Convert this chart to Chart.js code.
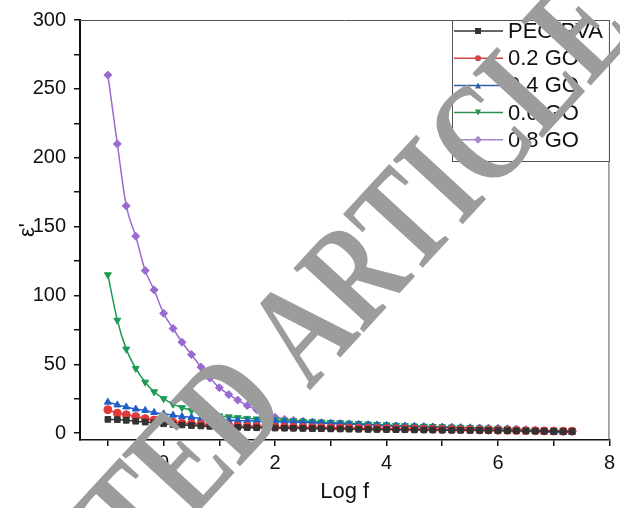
<!DOCTYPE html>
<html>
<head>
<meta charset="utf-8">
<script src="https://cdn.jsdelivr.net/npm/chart.js@4"></script>
<style>
    body { margin: 0; background: #fff; }
    #wrap { width: 620px; height: 508px; }
</style>
</head>
<body>
<div id="wrap"><canvas id="chart" width="620" height="508"></canvas></div>
<script>
// log f values (x), shared by all series
const logF = [-1, -0.83, -0.67, -0.5, -0.33, -0.17, 0, 0.17, 0.33, 0.5, 0.67, 0.83,
    1, 1.17, 1.33, 1.5, 1.67, 1.83, 2, 2.17, 2.33, 2.5, 2.67, 2.83,
    3, 3.17, 3.33, 3.5, 3.67, 3.83, 4, 4.17, 4.33, 4.5, 4.67, 4.83,
    5, 5.17, 5.33, 5.5, 5.67, 5.83, 6, 6.17, 6.33, 6.5, 6.67, 6.83,
    7, 7.17, 7.33];

const peoPva = [10, 9.8, 9.3, 8.6, 8, 7.4, 6.8, 6.3, 5.9, 5.5, 5.2, 4.9,
    4.6, 4.4, 4.2, 4.0, 3.9, 3.8, 3.7, 3.6, 3.5, 3.4, 3.3, 3.2,
    3.1, 3.0, 2.9, 2.8, 2.7, 2.7, 2.6, 2.5, 2.5, 2.4, 2.3, 2.3,
    2.2, 2.1, 2.1, 2.0, 2.0, 1.9, 1.8, 1.8, 1.7, 1.6, 1.5, 1.4,
    1.3, 1.2, 1.2];
const go02 = [17, 14.5, 13.3, 12, 10.5, 9.5, 8.5, 7.8, 7.2, 6.8, 6.4, 6,
    5.7, 5.4, 5.2, 5, 4.8, 4.6, 4.5, 4.4, 4.3, 4.2, 4.1, 4,
    3.9, 3.8, 3.7, 3.6, 3.5, 3.4, 3.3, 3.2, 3.1, 3.0, 2.9, 2.8,
    2.7, 2.6, 2.5, 2.4, 2.3, 2.2, 2.1, 2.0, 1.9, 1.8, 1.7, 1.6,
    1.5, 1.4, 1.4];
const go04 = [22.5, 20.5, 19, 17.5, 16.5, 15, 14, 13, 12, 11.4, 10.7, 10.2,
    9.8, 9.5, 9.2, 9, 8.8, 8.6, 8.4, 8.2, 8, 7.8, 7.6, 7.3,
    7, 6.8, 6.5, 6.3, 6, 5.8, 5.5, 5.2, 5, 4.8, 4.6, 4.4,
    4.2, 4, 3.8, 3.6, 3.4, 3.2, 3, 2.6, 2.2, 1.8, 1.2, 0.8,
    0.5, 0.4, 0.6];
const go06 = [115, 82, 61, 47, 37, 30, 25, 21, 18.5, 16.5, 15, 13.5,
    12.5, 11.8, 11.2, 10.7, 10.3, 10, 9.6, 9.3, 9, 8.7, 8.4, 8.1,
    7.8, 7.5, 7.2, 6.9, 6.6, 6.3, 6, 5.7, 5.4, 5.2, 5, 4.8,
    4.6, 4.4, 4.2, 4, 3.8, 3.6, 3.4, 3.1, 2.8, 2.4, 2, 1.7,
    1.5, 1.4, 1.6];
const go08 = [260, 210, 165, 143, 118, 104, 87, 76, 66, 57, 48, 40,
    33, 28, 24, 20, 17, 14, 11.5, 10, 9.3, 8.6, 8, 7.5,
    7, 6.8, 6.5, 6.2, 6, 5.7, 5.4, 5.2, 5, 4.8, 4.6, 4.5,
    4.3, 4.2, 4.0, 3.9, 3.8, 3.6, 3.5, 3.2, 3.0, 2.5, 2, 1.6,
    1.5, 1.3, 1.5];

const seriesNames = ["PEO/PVA", "0.2 GO", "0.4 GO", "0.6 GO", "0.8 GO"];
const seriesValues = [peoPva, go02, go04, go06, go08];
const xTicks = [-1, 0, 1, 2, 3, 4, 5, 6, 7, 8];
const yTicks = [0, 25, 50, 75, 100, 125, 150, 175, 200, 225, 250, 275, 300];

const colors = ["#333333", "#e23b3b", "#1f5fc8", "#1e9a55", "#9a6ad0"];
const legendColors = ["#333333", "#d04848", "#3060a8", "#2a9050", "#a488d0"];
const shapes = ["rect", "circle", "triangle", "triangle", "rectRot"];
const rotations = [0, 0, 0, 180, 0];

const datasets = seriesNames.map((name, i) => ({
    label: name,
    data: logF.map((x, j) => ({ x: x, y: seriesValues[i][j] })),
    borderColor: colors[i],
    backgroundColor: colors[i],
    borderWidth: 1.5,
    pointStyle: shapes[i],
    pointRotation: rotations[i],
    pointRadius: 4,
    pointBorderWidth: 1,
    cubicInterpolationMode: "monotone",
    tension: 0.4
}));

// legend box inside the plot, then the grey watermark over everything
const overlay = {
    id: "overlay",
    afterDraw(chart) {
        const ctx = chart.ctx;
        const a = chart.chartArea;
        ctx.save();
        // frame
        ctx.strokeStyle = "#555";
        ctx.lineWidth = 1;
        ctx.beginPath();
        ctx.moveTo(a.left, a.top + 0.5);
        ctx.lineTo(a.right - 0.5, a.top + 0.5);
        ctx.lineTo(a.right - 0.5, a.bottom);
        ctx.stroke();

        // legend
        const bx = 452, by = a.top + 0.5, bw = a.right - 0.5 - bx, bh = 141;
        ctx.fillStyle = "#fff";
        ctx.fillRect(bx, by, bw, bh);
        ctx.strokeStyle = "#555";
        ctx.strokeRect(bx + 0.5, by, bw, bh);
        ctx.font = '22px "Liberation Sans", Arial, sans-serif';
        ctx.textBaseline = "middle";
        seriesNames.forEach((name, i) => {
            const y = 31 + i * 27.2;
            ctx.strokeStyle = legendColors[i];
            ctx.lineWidth = 1.5;
            ctx.beginPath();
            ctx.moveTo(454, y);
            ctx.lineTo(503, y);
            ctx.stroke();
            ctx.fillStyle = legendColors[i];
            const m = 478, r = 3;
            ctx.beginPath();
            if (shapes[i] === "rect") {
                ctx.rect(m - r, y - r, 2 * r, 2 * r);
            } else if (shapes[i] === "circle") {
                ctx.arc(m, y, r, 0, Math.PI * 2);
            } else if (shapes[i] === "triangle" && rotations[i] === 0) {
                ctx.moveTo(m, y - r); ctx.lineTo(m + r, y + r); ctx.lineTo(m - r, y + r);
            } else if (shapes[i] === "triangle") {
                ctx.moveTo(m, y + r); ctx.lineTo(m + r, y - r); ctx.lineTo(m - r, y - r);
            } else {
                ctx.moveTo(m, y - r - 1); ctx.lineTo(m + r + 1, y); ctx.lineTo(m, y + r + 1); ctx.lineTo(m - r - 1, y);
            }
            ctx.closePath();
            ctx.fill();
            ctx.fillStyle = "#111";
            ctx.fillText(name, 508, y + 1);
        });

        // watermark
        ctx.translate(209, 445);
        ctx.rotate(-47.4 * Math.PI / 180);
        ctx.scale(0.74, 1);
        ctx.font = 'bold 145px "Liberation Serif", serif';
        ctx.fillStyle = "#9c9c9c";
        ctx.textAlign = "center";
        ctx.textBaseline = "middle";
        ctx.fillText("RETRACTED ARTICLE", 0, 0);
        ctx.restore();
    }
};

new Chart(document.getElementById("chart"), {
    type: "line",
    data: { datasets: datasets },
    options: {
        responsive: false,
        animation: false,
        devicePixelRatio: 1,
        layout: { padding: { top: 13, right: 8, left: 0, bottom: 0 } },
        plugins: { legend: { display: false }, tooltip: { enabled: false } },
        scales: {
            x: {
                type: "linear",
                min: -1.5,
                max: 8,
                afterBuildTicks: s => { s.ticks = xTicks.map(v => ({ value: v })); },
                afterFit: s => { s.height = 68; },
                grid: { display: true, drawOnChartArea: false, drawTicks: true, tickLength: 6, color: "#111", lineWidth: 1.5 },
                border: { display: true, color: "#111", width: 1.5 },
                ticks: {
                    color: "#111",
                    padding: 5,
                    maxRotation: 0,
                    font: { family: '"Liberation Sans", Arial, sans-serif', size: 20 },
                    callback: v => (v % 2 === 0 ? v : "")
                },
                title: {
                    display: true,
                    text: "Log f",
                    color: "#111",
                    padding: { top: 0, bottom: 3 },
                    font: { family: '"Liberation Sans", Arial, sans-serif', size: 22 }
                }
            },
            y: {
                type: "linear",
                min: -5,
                max: 300,
                afterBuildTicks: s => { s.ticks = yTicks.map(v => ({ value: v })); },
                afterFit: s => { s.width = 80; },
                grid: { display: true, drawOnChartArea: false, drawTicks: true, tickLength: 6, color: "#111", lineWidth: 1.5 },
                border: { display: true, color: "#111", width: 2 },
                ticks: {
                    color: "#111",
                    padding: 8,
                    font: { family: '"Liberation Sans", Arial, sans-serif', size: 20 },
                    callback: v => (v % 50 === 0 ? v : "")
                },
                title: {
                    display: true,
                    text: "ε'",
                    color: "#111",
                    padding: { top: 15, bottom: 0 },
                    font: { family: '"Liberation Sans", Arial, sans-serif', size: 22 }
                }
            }
        }
    },
    plugins: [overlay]
});
</script>
</body>
</html>
